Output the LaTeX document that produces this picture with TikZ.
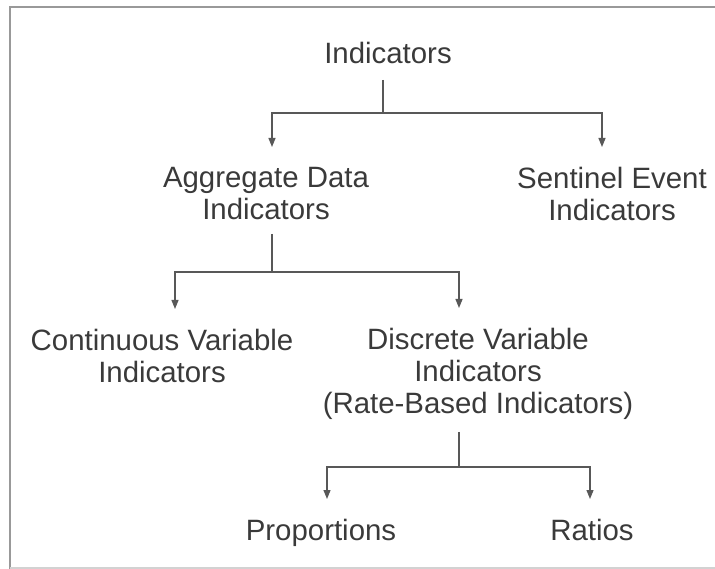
\documentclass[tikz,border=0pt]{standalone}
\usepackage{fontspec}
\setmainfont{Liberation Sans}
\usetikzlibrary{arrows.meta}
\definecolor{inkgray}{HTML}{3A3A3A}
\definecolor{linegray}{HTML}{585858}
\tikzset{
    lbl/.style={anchor=north, inner sep=0pt, align=center, text=inkgray,
        font=\fontsize{29.4}{32}\selectfont},
    conn/.style={draw=linegray, line width=1.2pt},
    arr/.style={conn, shorten >=20pt, -{Triangle[length=9pt,width=7pt]}},
}
\begin{document}
\begin{tikzpicture}[x=1pt,y=-1pt]
\useasboundingbox (0,0) rectangle (715,569);
\draw[draw=gray!80, line width=1.5pt] (10,569) -- (10,7) -- (715,7);
\draw[draw=gray!35, line width=1.2pt] (10,568) -- (715,568);

\node[lbl] (ind)  at (388,42)  {Indicators};
\node[lbl] (agg)  at (266,167) {Aggregate Data\\Indicators};
\node[lbl] (sen)  at (612,167) {Sentinel Event\\Indicators};
\node[lbl] (cont) at (162,329) {Continuous Variable\\Indicators};
\node[lbl] (disc) at (478,328) {Discrete Variable\\Indicators\\(Rate-Based Indicators)};
\node[lbl] (prop) at (321,519) {Proportions};
\node[lbl] (rat)  at (592,519) {Ratios};

\coordinate (b1) at (383,113);
\coordinate (b2) at (272,272);
\coordinate (b3) at (459,467);

\draw[conn] (ind.south -| b1) ++(0,16) -- (b1);
\draw[arr] (b1) -| ([xshift=6pt]agg.north);
\draw[arr] (b1) -| ([xshift=-10pt]sen.north);

\draw[conn] (agg.south -| b2) ++(0,14) -- (b2);
\draw[arr] (b2) -| ([xshift=13pt]cont.north);
\draw[arr] (b2) -| ([xshift=-19pt]disc.north);

\draw[conn] (disc.south -| b3) ++(0,12) -- (b3);
\draw[arr] (b3) -| ([xshift=6pt]prop.north);
\draw[arr] (b3) -| ([xshift=-2pt]rat.north);
\end{tikzpicture}
\end{document}
